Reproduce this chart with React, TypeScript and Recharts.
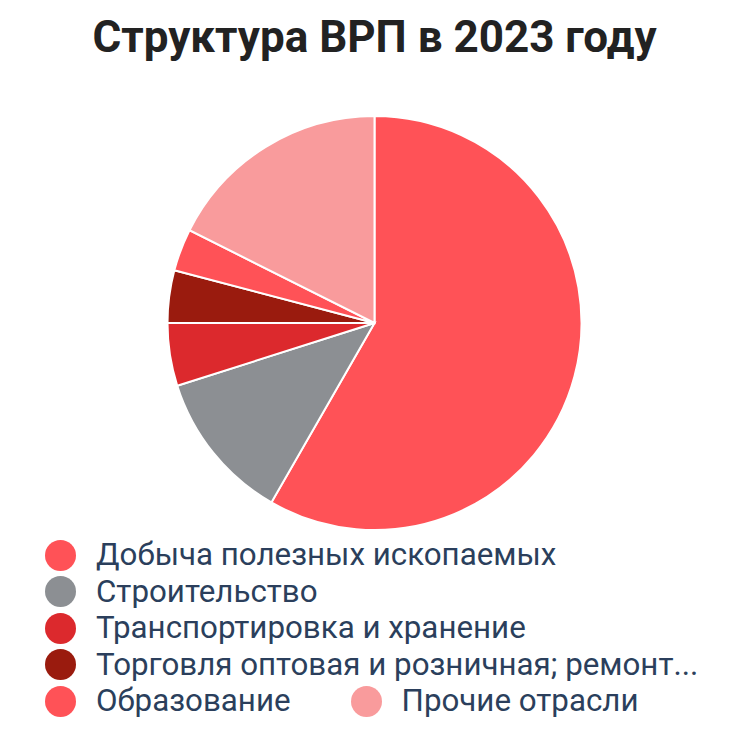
import { PieChart, Pie, Cell, Legend } from 'recharts';

const sectors = [
  'Добыча полезных ископаемых',
  'Строительство',
  'Транспортировка и хранение',
  'Торговля оптовая и розничная; ремонт автотранспортных средств и мотоциклов',
  'Образование',
  'Прочие отрасли',
];
const shares = [58.3, 11.8, 4.9, 4.1, 3.3, 17.6];
const colors = ['#FF5257', '#8C8F93', '#DC292D', '#9A1B0E', '#FF5257', '#F99B9C'];

const data = sectors.map((name, i) => ({ name, value: shares[i] }));

// long labels get cut like in the original legend
const shortLabel = (s: string) => (s.length > 40 ? s.slice(0, 36) + '...' : s);

const renderLegend = () => (
  <div
    style={{
      display: 'flex',
      flexWrap: 'wrap',
      columnGap: 60,
      fontFamily: 'Roboto, sans-serif',
      fontSize: 31.3,
      color: '#2B3F5C',
      lineHeight: '36.5px',
    }}
  >
    {sectors.map((name, i) => (
      <div key={name} style={{ display: 'flex', alignItems: 'center' }}>
        <span
          style={{
            display: 'inline-block',
            width: 31,
            height: 31,
            borderRadius: '50%',
            background: colors[i],
            marginRight: 20,
            flexShrink: 0,
          }}
        />
        <span style={{ whiteSpace: 'nowrap' }}>{shortLabel(name)}</span>
      </div>
    ))}
  </div>
);

const App = () => {
  return (
    <div style={{ position: 'relative', width: 715, height: 717 }}>
      <div
        style={{
          position: 'absolute',
          top: 3,
          left: 9,
          width: 715,
          textAlign: 'center',
          fontFamily: 'Roboto, sans-serif',
          fontWeight: 700,
          fontSize: 44,
          color: '#222222',
        }}
      >
        Структура ВРП в 2023 году
      </div>
      <PieChart width={715} height={717}>
        <Pie
          data={data}
          dataKey="value"
          nameKey="name"
          cx={361.5}
          cy={310}
          outerRadius={207}
          startAngle={90}
          endAngle={-270}
          stroke="#ffffff"
          strokeWidth={2}
          isAnimationActive={false}
        >
          {data.map((d, i) => (
            <Cell key={d.name} fill={colors[i]} />
          ))}
        </Pie>
        <Legend
          content={renderLegend}
          wrapperStyle={{ left: 37, top: 529, width: 680 }}
        />
      </PieChart>
    </div>
  );
};

export default App;
